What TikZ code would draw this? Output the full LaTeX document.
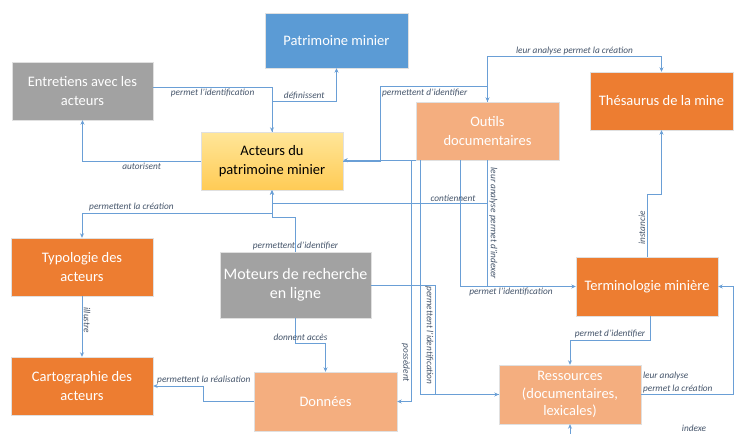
\documentclass[tikz,border=0pt]{standalone}
\usepackage{fontspec}
\setmainfont{Carlito}
\usetikzlibrary{arrows.meta,calc}
\definecolor{cblue}{HTML}{5B9BD5}
\definecolor{cgray}{HTML}{A2A2A2}
\definecolor{corange}{HTML}{ED7D31}
\definecolor{clight}{HTML}{F4AE7F}
\definecolor{cline}{HTML}{6A9FD6}
\definecolor{clabel}{HTML}{44546A}
\definecolor{cyelT}{HTML}{FFE699}
\definecolor{cyelB}{HTML}{FFCB55}
\begin{document}
\begin{tikzpicture}[x=1pt,y=-1pt,
  box/.style={rectangle, draw=black!12, line width=0.4pt, text=white, align=center,
    font=\fontsize{14.5}{18.5}\selectfont, inner sep=2pt},
  conn/.style={draw=cline, line width=0.75pt},
  arr/.style={-{Stealth[length=4.5pt,width=4pt]}},
  lbl/.style={font=\fontsize{9.3}{13}\selectfont\itshape, text=clabel, inner sep=1.5pt}]
\useasboundingbox (0,0) rectangle (737,434);
\fill[white] (0,0) rectangle (737,434);

% nodes
\node[box, fill=cblue, minimum width=143pt, minimum height=55pt] (pat) at (336.5,40.5) {Patrimoine minier};
\node[box, fill=cgray, minimum width=141pt, minimum height=58pt] (ent) at (82.5,91) {Entretiens avec les\\acteurs};
\node[box, top color=cyelT, bottom color=cyelB, text=black, minimum width=142pt, minimum height=58pt] (act) at (272,161) {Acteurs du\\patrimoine minier};
\node[box, fill=clight, minimum width=143pt, minimum height=58pt] (out) at (487.5,131) {Outils\\documentaires};
\node[box, fill=corange, minimum width=143pt, minimum height=58pt] (the) at (661.5,101) {Thésaurus de la mine};
\node[box, fill=corange, minimum width=142pt, minimum height=58pt] (typ) at (82,267) {Typologie des\\acteurs};
\node[box, fill=cgray, minimum width=151pt, minimum height=66pt, font=\fontsize{16}{19.5}\selectfont] (mot) at (295.5,285) {Moteurs de recherche\\en ligne};
\node[box, fill=corange, minimum width=142pt, minimum height=59pt] (ter) at (647,286.5) {Terminologie minière};
\node[box, fill=corange, minimum width=142pt, minimum height=58pt] (car) at (82,386) {Cartographie des\\acteurs};
\node[box, fill=clight, minimum width=143pt, minimum height=59pt] (don) at (325.5,401.5) {Données};
\node[box, fill=clight, minimum width=142pt, minimum height=59pt, font=\fontsize{14.5}{17.5}\selectfont] (res) at (570,394.5) {Ressources\\(documentaires,\\lexicales)};

% connectors
\draw[conn,arr] ([yshift=4pt]ent.east) -| node[lbl,below,pos=0.25]{permet l'identification} (act.north);
\draw[conn,arr] (act.north) -- ++(0,-30) -| node[lbl,above,pos=0.25]{définissent} (pat.south);
\draw[conn,arr] (act.west) -| node[lbl,below,pos=0.25]{autorisent} (ent.south);
\draw[conn,arr] (act.east) -- ++(37,0) |- node[lbl,below right,pos=0.5]{permettent d'identifier} ([yshift=15pt]out.north) -- (out.north);
\draw[conn,arr] (out.south west) -- (out.south west -| act.east);
\draw[conn,arr] ([xshift=-4pt]out.south west) |- node[lbl,rotate=-90,anchor=north,pos=0.42]{possèdent} (don.east);
\draw[conn] ([xshift=5pt]out.south west) |- (res.west);
\draw[conn,arr] (mot.east) -- ++(64,0) |- node[lbl,rotate=-90,anchor=north,pos=0.23]{permettent l'identification} (res.west);
\draw[conn] (out.south) -- node[lbl,rotate=-90,anchor=south,pos=0.5]{leur analyse permet d'indexer} (out.south |- ter.west);
\draw[conn,arr] ([xshift=-27.5pt]out.south) |- node[lbl,below,pos=0.72]{permet l'identification} (ter.west);
\draw[conn,arr] ([yshift=-43pt]out.south) -| node[lbl,above,pos=0.08]{contiennent} (act.south);
\draw[conn,arr] (mot.north) node[lbl,above]{permettent d'identifier} -- ++(0,-34) -| (act.south);
\draw[conn,arr] ([yshift=-23pt]act.south) -| node[lbl,above,pos=0.37]{permettent la création} (typ.north);
\draw[conn,arr] (typ.south) -- node[lbl,rotate=-90,anchor=south,pos=0.4]{illustre} (car.north);
\draw[conn,arr] (mot.south) -- node[lbl,pos=0.76,xshift=5pt]{donnent accès} ++(0,25) -| (don.north);
\draw[conn,arr] (don.west) -- ++(-50,0) |- node[lbl,above,pos=0.5]{permettent la réalisation} (car.east);
\draw[conn,arr] (out.north) -- ++(0,-45) -| node[lbl,above,pos=0.25]{leur analyse permet la création} (the.north);
\draw[conn,arr] (ter.north) |- node[lbl,rotate=90,anchor=south,pos=0.23]{instancie} ([yshift=-64pt]the.south) -- (the.south);
\draw[conn,arr] ([xshift=3pt]ter.south) -- ++(0,24) -| node[lbl,above,pos=0.25]{permet d'identifier} (res.north);
\draw[conn,arr] (res.east) node[lbl,above right,align=left]{leur analyse\\permet la création} -| ([xshift=15pt]ter.east) -- (ter.east);
\coordinate (ix) at ([yshift=-20pt]res.south);
\draw[conn,arr] (ix) -- (res.south);
\node[lbl] (idx) at (694,428) {indexe};
\end{tikzpicture}
\end{document}
